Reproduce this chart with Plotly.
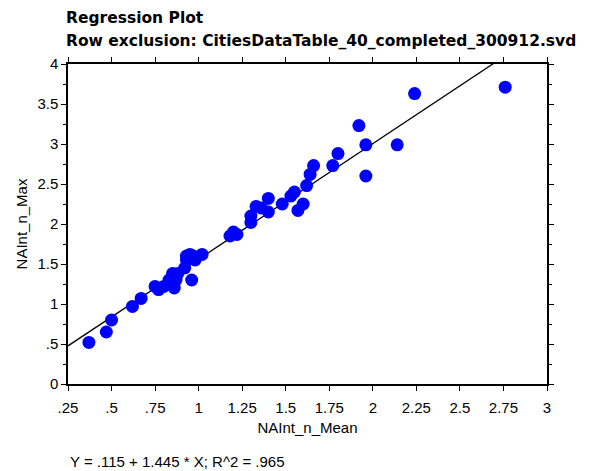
import plotly.graph_objects as go

x_mean = [0.37, 0.47, 0.5, 0.62, 0.67, 0.75, 0.77, 0.8, 0.83, 0.85, 0.87, 0.86, 0.88,
          0.92, 0.93, 0.93, 0.95, 0.96, 0.97, 0.98, 1.02, 1.18, 1.2, 1.22, 1.3, 1.3,
          1.33, 1.36, 1.4, 1.4, 1.48, 1.53, 1.55, 1.57, 1.6, 1.62, 1.64, 1.66, 1.77,
          1.8, 1.92, 1.96, 1.96, 2.14, 2.24, 2.76]
y_max = [0.52, 0.65, 0.8, 0.97, 1.07, 1.22, 1.18, 1.22, 1.3, 1.38, 1.3, 1.2, 1.38,
         1.45, 1.55, 1.6, 1.62, 1.3, 1.6, 1.55, 1.62, 1.85, 1.9, 1.87, 2.02, 2.1,
         2.22, 2.2, 2.32, 2.15, 2.25, 2.35, 2.4, 2.17, 2.25, 2.48, 2.62, 2.73, 2.73,
         2.88, 3.23, 2.99, 2.6, 2.99, 3.63, 3.71]
intercept = 0.115
slope = 1.445
x_ticks = [0.25, 0.5, 0.75, 1, 1.25, 1.5, 1.75, 2, 2.25, 2.5, 2.75, 3]
x_labels = ['.25', '.5', '.75', '1', '1.25', '1.5', '1.75', '2', '2.25', '2.5', '2.75', '3']
y_ticks = [0, 0.5, 1, 1.5, 2, 2.5, 3, 3.5, 4]
y_labels = ['0', '.5', '1', '1.5', '2', '2.5', '3', '3.5', '4']

line_x = [0.25, 3]
line_y = [intercept + slope * v for v in line_x]

# page has an 8px body margin, so the figure is drawn 8px in from the corner
OFF = 8
W, H = 598 - OFF, 471 - OFF
L, R, T, B = 68 - OFF, 51, 64 - OFF, 87

fig = go.Figure()
fig.add_trace(go.Scatter(x=line_x, y=line_y, mode='lines',
                         line=dict(color='black', width=1.3), showlegend=False))
fig.add_trace(go.Scatter(x=x_mean, y=y_max, mode='markers',
                         marker=dict(color='#0000ff', size=13), showlegend=False))

axis_common = dict(showline=True, linecolor='black', linewidth=1.5, mirror='allticks',
                   ticks='outside', ticklen=5, tickcolor='black', showgrid=False,
                   zeroline=False, tickfont=dict(size=15, color='black'))


def px_ann(text, px, py, size, family='Liberation Sans, Arial'):
    # position a text by pixel coordinates of the screenshot
    px, py = px - OFF, py - OFF
    return dict(text=text, xref='paper', yref='paper',
                x=(px - L) / (W - L - R), y=(H - py - B) / (H - T - B),
                showarrow=False, xanchor='left', yanchor='middle',
                font=dict(size=size, family=family))


fig.update_layout(
    width=W, height=H,
    margin=dict(l=L, r=R, t=T, b=B, autoexpand=False),
    plot_bgcolor='white', paper_bgcolor='white',
    font=dict(family='Liberation Sans, Arial', color='black'),
    xaxis=dict(range=[0.25, 3], tickvals=x_ticks, ticktext=x_labels,
               ticklabelstandoff=4,
               title=dict(text='NAInt_n_Mean', font=dict(size=15), standoff=8),
               **axis_common),
    yaxis=dict(range=[0, 4], tickvals=y_ticks, ticktext=y_labels,
               minor=dict(ticks='outside', ticklen=3, dtick=0.25, tickcolor='black'),
               title=dict(text='NAInt_n_Max', font=dict(size=15), standoff=6),
               **axis_common),
    annotations=[
        px_ann('<b>Regression Plot</b>', 64, 18, 15.5, 'DejaVu Sans'),
        px_ann('<b>Row exclusion: CitiesDataTable_40_completed_300912.svd</b>', 64, 41, 15.5,
               'DejaVu Sans'),
        px_ann('Y = .115 + 1.445 * X; R^2 = .965', 68, 461, 15),
    ],
)

fig.write_html('out.html')
